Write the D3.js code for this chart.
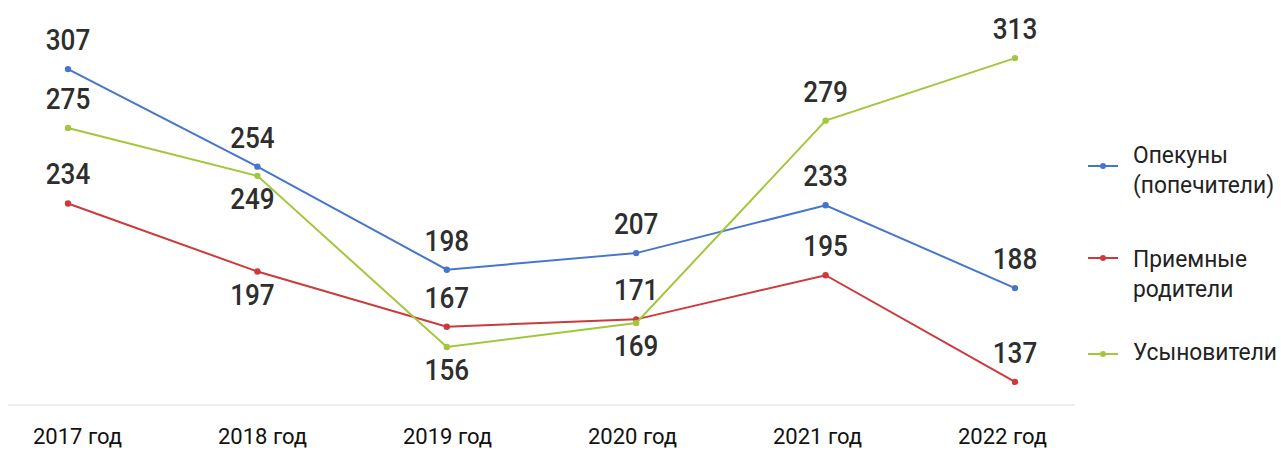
<!DOCTYPE html>
<html>
<head>
<meta charset="utf-8">
<script src="https://cdn.jsdelivr.net/npm/d3@7/dist/d3.min.js"></script>
<style>
  html, body { margin: 0; padding: 0; background: #ffffff; }
  svg { display: block; }
</style>
</head>
<body>
<svg id="chart" width="1281" height="450"></svg>
<script>
// ---- data ----
const years = ["2017 год", "2018 год", "2019 год", "2020 год", "2021 год", "2022 год"];
const seriesNames = ["Опекуны (попечители)", "Приемные родители", "Усыновители"];
const guardians = [307, 254, 198, 207, 233, 188];
const fosterParents = [234, 197, 167, 171, 195, 137];
const adopters = [275, 249, 156, 169, 279, 313];
// labels drawn below the point: [seriesIndex, yearIndex]
const labelsBelow = [[1, 1], [2, 1], [2, 2], [2, 3]];

const legendLines = [["Опекуны", "(попечители)"], ["Приемные", "родители"], ["Усыновители"]];
const colors = ["#4676cc", "#cc3a3c", "#a3c73b"];

const series = [guardians, fosterParents, adopters].map((vals, i) => ({
  name: seriesNames[i], values: vals, color: colors[i], idx: i
}));

const svg = d3.select("#chart");

const x = d3.scalePoint().domain(years).range([68, 1015]);
const xLabels = d3.scalePoint().domain(years).range([77, 1002]);
const y = d3.scaleLinear().domain([125, 325]).range([404, 36]);

// faint baseline
svg.append("line")
  .attr("x1", 8).attr("x2", 1075)
  .attr("y1", 405).attr("y2", 405)
  .attr("stroke", "#efefef").attr("stroke-width", 2);

// x axis labels
const axis = d3.axisBottom(xLabels).tickSize(0).tickPadding(0);
const ag = svg.append("g").attr("transform", "translate(0,428)").call(axis);
ag.select(".domain").remove();
ag.selectAll("text")
  .attr("font-family", "Roboto, 'Open Sans', sans-serif")
  .attr("font-size", 22)
  .attr("fill", "#111");

const line = d3.line().x((d, i) => x(years[i])).y(d => y(d));

const sg = svg.selectAll("g.series").data(series).join("g").attr("class", "series");
sg.append("path")
  .attr("d", d => line(d.values))
  .attr("fill", "none")
  .attr("stroke", d => d.color)
  .attr("stroke-width", 2);
sg.selectAll("circle")
  .data(d => d.values.map((v, i) => ({ v, i, color: d.color })))
  .join("circle")
  .attr("cx", d => x(years[d.i]))
  .attr("cy", d => y(d.v))
  .attr("r", 3.2)
  .attr("fill", d => d.color);

// value labels
const isBelow = (s, i) => labelsBelow.some(p => p[0] === s && p[1] === i);
series.forEach(s => {
  s.values.forEach((v, i) => {
    const below = isBelow(s.idx, i);
    const lx = x(years[i]) - (i === 1 ? 5 : 0);
    const ly = y(v) + (below ? 33 : -19);
    svg.append("text")
      .attr("transform", `translate(${lx},${ly}) scale(0.9,1)`)
      .attr("text-anchor", "middle")
      .attr("font-family", "Roboto, 'Open Sans', sans-serif")
      .attr("font-size", 29)
      .attr("font-weight", 500)
      .attr("fill", "#2e2e2e")
      .text(v);
  });
});

// legend
const legendTop = [163, 267, 360];
const markerY = [166, 258, 354];
series.forEach((s, k) => {
  const g = svg.append("g");
  g.append("line")
    .attr("x1", 1088).attr("x2", 1118)
    .attr("y1", markerY[k]).attr("y2", markerY[k])
    .attr("stroke", s.color).attr("stroke-width", 2);
  g.append("circle")
    .attr("cx", 1103).attr("cy", markerY[k]).attr("r", 3)
    .attr("fill", s.color);
  legendLines[k].forEach((t, j) => {
    g.append("text")
      .attr("transform", `translate(1133,${legendTop[k] + j * 30}) scale(0.95,1)`)
      .attr("font-family", "Roboto, 'Open Sans', sans-serif")
      .attr("font-size", 24)
      .attr("fill", "#222")
      .text(t);
  });
});
</script>
</body>
</html>
